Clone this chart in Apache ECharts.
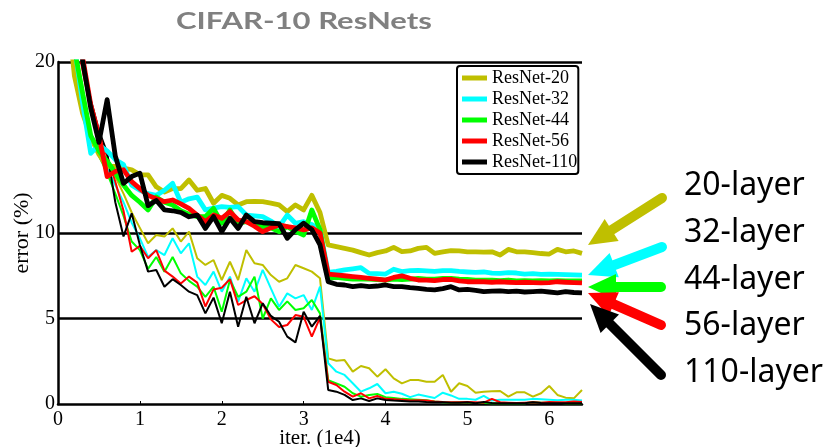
<!DOCTYPE html>
<html>
<head>
<meta charset="utf-8">
<script src="https://cdn.jsdelivr.net/npm/echarts@6/dist/echarts.min.js"></script>
<style>html,body{margin:0;padding:0;background:#fff}#c{width:838px;height:447px}</style>
</head>
<body>
<div id="c"></div>
<script>
// x positions (iterations, 1e4)
const iters = [0.1,0.2,0.3,0.4,0.5,0.6,0.7,0.8,0.9,1.0,1.1,1.2,1.3,1.4,1.5,1.6,1.7,1.8,1.9,2.0,2.1,2.2,2.3,2.4,2.5,2.6,2.7,2.8,2.9,3.0,3.1,3.2,3.3,3.4,3.5,3.6,3.7,3.8,3.9,4.0,4.1,4.2,4.3,4.4,4.5,4.6,4.7,4.8,4.9,5.0,5.1,5.2,5.3,5.4,5.5,5.6,5.7,5.8,5.9,6.0,6.1,6.2,6.3,6.4];
const xTicks = [0,1,2,3,4,5,6];
const yTicks = [0,5,10,20];
const gridValues = [5,10,20];
const names = ['ResNet-20','ResNet-32','ResNet-44','ResNet-56','ResNet-110'];
const colors = ['#BFBF00','#00FFFF','#00FF00','#FF0000','#000000'];
const sideLabels = ['20-layer','32-layer','44-layer','56-layer','110-layer'];

// test error (thick)
const test20 = [24,19.2,17.0,15.6,14.6,13.9,13.9,13.8,13.7,13.4,13.4,12.7,12.4,12.6,12.6,13.1,12.5,12.6,11.74,12.2,12.03,11.64,11.83,11.85,11.83,11.75,11.64,11.25,11.64,11.35,12.2,11.2,9.3,9.2,9.1,9.0,8.85,8.71,8.85,8.95,9.16,8.91,8.95,9.1,9.16,8.81,8.9,8.97,8.95,8.9,8.9,8.88,8.9,8.71,9.04,8.9,8.9,8.85,8.8,8.77,9.04,8.9,8.95,8.81];
const test32 = [26,21,17.6,14.66,15.15,14.8,14.3,14.0,12.8,12.5,12.3,12.2,12.5,12.9,11.8,12.0,12.1,11.35,11.45,11.54,11.5,11.54,11.05,11.0,10.96,10.7,10.37,11.05,10.57,10.66,10.5,10.2,7.7,7.75,7.84,7.9,7.97,7.64,7.62,7.6,7.88,7.74,7.8,7.82,7.78,7.75,7.8,7.8,7.75,7.72,7.7,7.72,7.65,7.64,7.68,7.66,7.6,7.62,7.58,7.6,7.58,7.56,7.55,7.54];
const test44 = [26,20.8,18.2,15.7,14.8,14.2,13.5,12.8,12.2,11.8,11.35,12.1,11.8,11.64,11.3,11.1,10.95,10.95,11.44,10.57,11.35,10.57,10.66,10.5,10.37,10.3,10.08,10.37,10.1,9.88,11.35,10.2,7.35,7.4,7.35,7.3,7.3,7.3,7.28,7.25,7.3,7.28,7.3,7.35,7.3,7.3,7.35,7.35,7.3,7.28,7.25,7.25,7.25,7.22,7.25,7.2,7.22,7.2,7.22,7.2,7.22,7.2,7.2,7.2];
const test56 = [28,23,20.3,17.5,15.7,13.3,13.6,13.7,13.0,12.6,12.2,12.0,11.83,11.93,11.7,11.44,11.05,10.66,11.05,10.86,11.25,10.76,10.66,10.4,10.08,10.3,10.47,10.37,10.3,10.18,10.3,10.0,7.6,7.55,7.5,7.45,7.4,7.35,7.3,7.25,7.4,7.49,7.35,7.25,7.25,7.22,7.28,7.29,7.2,7.15,7.15,7.15,7.12,7.15,7.12,7.1,7.12,7.1,7.08,7.1,7.15,7.12,7.1,7.08];
const test110 = [28,23,20.1,17.3,15.3,17.8,14.5,12.9,13.3,13.5,11.6,11.9,11.35,11.3,11.2,10.95,11.05,10.27,10.96,10.08,10.86,10.27,11.05,10.66,10.6,10.57,10.55,9.69,10.2,10.57,10.2,9.3,7.15,7.0,6.96,6.86,6.92,6.86,6.9,6.96,6.86,6.86,6.8,6.76,6.7,6.67,6.75,6.86,6.67,6.7,6.65,6.57,6.6,6.62,6.57,6.6,6.55,6.57,6.6,6.55,6.5,6.57,6.52,6.5];

// training error (thin)
const train20 = [24,19.5,17.3,15.8,14.8,14.0,13.3,12.3,11.2,10.3,9.4,9.88,9.79,10.27,9.5,10.08,8.52,8.13,8.42,7.25,8.32,7.25,9.0,8.23,8.13,7.54,7.15,7.35,8.13,7.94,7.74,7.35,2.67,2.53,2.57,1.89,2.22,2.09,1.6,2.03,1.5,1.21,1.4,1.4,1.3,1.3,1.7,0.72,1.21,1.05,0.66,0.72,0.74,0.76,0.43,0.68,0.68,0.43,0.63,1.05,0.53,0.37,0.33,0.82];
const train32 = [25,20.5,17.8,15.8,14.8,13.8,12.8,11.8,10.6,9.69,8.6,9.0,8.71,9.69,8.81,9.4,7.45,6.96,7.74,6.57,7.45,5.99,7.35,6.57,7.84,6.76,5.69,6.47,6.18,6.37,5.5,6.86,2.38,1.89,1.7,1.21,0.72,0.92,1.17,0.63,0.72,0.6,0.4,0.55,0.45,0.35,0.66,0.5,0.3,0.3,0.25,0.47,0.2,0.25,0.25,0.25,0.25,0.3,0.28,0.25,0.22,0.25,0.25,0.2];
const train44 = [25.5,20.6,17.8,15.5,14.5,13.5,12.3,11.0,9.5,9.0,7.9,8.6,7.74,8.6,7.64,7.2,6.86,6.27,6.86,5.4,7.25,6.27,6.57,7.45,5.0,6.18,5.5,6.0,5.5,5.6,6.08,5.3,1.4,1.21,1.01,0.63,0.43,0.53,0.59,0.4,0.35,0.3,0.28,0.25,0.22,0.15,0.1,0.08,0.1,0.08,0.06,0.06,0.05,0.05,0.04,0.05,0.05,0.1,0.08,0.06,0.08,0.05,0.06,0.05];
const train56 = [27,22,19.5,17.2,15.5,14.5,13.0,11.3,8.9,9.25,8.52,9.0,7.8,7.45,7.05,7.45,7.1,5.7,6.7,6.8,7.3,5.79,6.08,6.3,5.85,4.95,4.5,4.62,5.2,5.1,3.94,5.05,1.3,1.11,0.72,0.43,0.63,0.33,0.47,0.3,0.28,0.25,0.2,0.22,0.2,0.15,0.12,0.1,0.1,0.12,0.1,0.08,0.3,0.1,0.08,0.06,0.08,0.1,0.08,0.12,0.1,0.1,0.15,0.12];
const train110 = [28,23,20.3,17.8,16.0,14.7,11.8,9.8,11.15,9.3,7.74,7.84,6.86,7.3,6.96,6.57,6.37,5.3,6.22,4.72,6.57,4.52,6.27,4.72,5.89,5.15,4.81,3.94,3.6,5.4,4.52,5.15,0.82,0.72,0.53,0.23,0.33,0.18,0.33,0.23,0.2,0.18,0.15,0.15,0.12,0.1,0.1,0.08,0.08,0.1,0.05,0.12,0.06,0.05,0.05,0.04,0.05,0.1,0.06,0.05,0.05,0.04,0.05,0.04];

const testSets = [test20,test32,test44,test56,test110];
const trainSets = [train20,train32,train44,train56,train110];

const chart = echarts.init(document.getElementById('c'), null, {renderer:'canvas'});
const pair = arr => iters.map((x,i)=>[x,arr[i]]);

const series = [];
trainSets.forEach((arr,i)=>{
  const s = {
    name: names[i]+' train', type:'line', data: pair(arr), symbol:'none', clip:true,
    lineStyle:{color:colors[i], width:2}, itemStyle:{color:colors[i]},
    emphasis:{disabled:true}, z:2
  };
  if(i===0){
    s.markLine = {silent:true, symbol:'none', label:{show:false},
      lineStyle:{color:'#000', width:2.5, type:'solid'},
      data: gridValues.map(v=>({yAxis:v})), z:1, animation:false};
  }
  series.push(s);
});
testSets.forEach((arr,i)=>{
  series.push({
    name: names[i], type:'line', data: pair(arr), symbol:'none', clip:true,
    lineStyle:{color:colors[i], width:4.8, join:'round'}, itemStyle:{color:colors[i]},
    emphasis:{disabled:true}, z:3
  });
});

// arrows (annotation)
const arrowDefs = [
  {tail:[662,198], tip:[588,245]},
  {tail:[662,247], tip:[588,275]},
  {tail:[661,287], tip:[588,287]},
  {tail:[661,325], tip:[588,293]},
  {tail:[661,375], tip:[590,304]}
];
const graphics = [];
arrowDefs.forEach((a,i)=>{
  const dx=a.tip[0]-a.tail[0], dy=a.tip[1]-a.tail[1];
  const len=Math.sqrt(dx*dx+dy*dy); const ux=dx/len, uy=dy/len; const nx=-uy, ny=ux;
  const L=28, H=13;
  const bx=a.tip[0]-ux*L, by=a.tip[1]-uy*L;
  graphics.push({type:'line', shape:{x1:a.tail[0],y1:a.tail[1],x2:bx+ux*4,y2:by+uy*4},
    style:{stroke:colors[i], lineWidth:10, lineCap:'round'}, silent:true, z:10});
  graphics.push({type:'polygon', shape:{points:[[a.tip[0],a.tip[1]],[bx+nx*H,by+ny*H],[bx-nx*H,by-ny*H]]},
    style:{fill:colors[i]}, silent:true, z:10});
});
const labelY = [186,233,280,326,373];
sideLabels.forEach((t,i)=>{
  graphics.push({type:'text', x:684, y:labelY[i], style:{text:t, font:'32px "Noto Sans"', fill:'#000', textAlign:'left', textVerticalAlign:'middle'}, silent:true, z:10});
});
graphics.push({type:'text', x:304, y:22, scaleX:1.35, originX:0, originY:0,
  style:{text:'CIFAR-10 ResNets', font:'bold 23px Lato', fill:'#808080', textAlign:'center', textVerticalAlign:'middle'}, silent:true, z:10});

chart.setOption({
  animation:false,
  grid:{left:58, right:256, top:62, bottom:43, containLabel:false, outerBoundsMode:'none'},
  legend:{
    data:names, orient:'vertical', left:457, top:66, icon:'rect', itemWidth:25, itemHeight:5,
    itemGap:3, padding:[3,1,3,5], borderColor:'#000', borderWidth:2, borderRadius:3,
    backgroundColor:'#fff', selectedMode:false,
    textStyle:{fontFamily:'Liberation Serif', fontSize:18, color:'#000'}
  },
  xAxis:{
    type:'value', min:0, max:6.4, interval:1,
    name:'iter. (1e4)', nameLocation:'middle', nameGap:24, nameMoveOverlap:false,
    nameTextStyle:{fontFamily:'Liberation Serif', fontSize:21, color:'#000', verticalAlign:'top'},
    axisLine:{lineStyle:{color:'#000', width:2.5}},
    axisTick:{show:true, inside:true, length:3, lineStyle:{color:'#000'}},
    axisLabel:{fontFamily:'Liberation Serif', fontSize:20, color:'#000', margin:6,
      formatter:v=> xTicks.includes(v)? String(v) : '', showMaxLabel:false},
    splitLine:{show:false}
  },
  yAxis:{
    type:'value', min:0, max:20, interval:5,
    name:'error (%)', nameLocation:'middle', nameGap:25, nameMoveOverlap:false,
    nameTextStyle:{fontFamily:'Liberation Serif', fontSize:22, color:'#000'},
    axisLine:{show:true, lineStyle:{color:'#000', width:2.5}},
    axisTick:{show:false},
    axisLabel:{fontFamily:'Liberation Serif', fontSize:20, color:'#000', margin:3,
      formatter:v=> yTicks.includes(v)? String(v) : ''},
    splitLine:{show:false}
  },
  graphic: graphics,
  series: series
});
</script>
</body>
</html>
